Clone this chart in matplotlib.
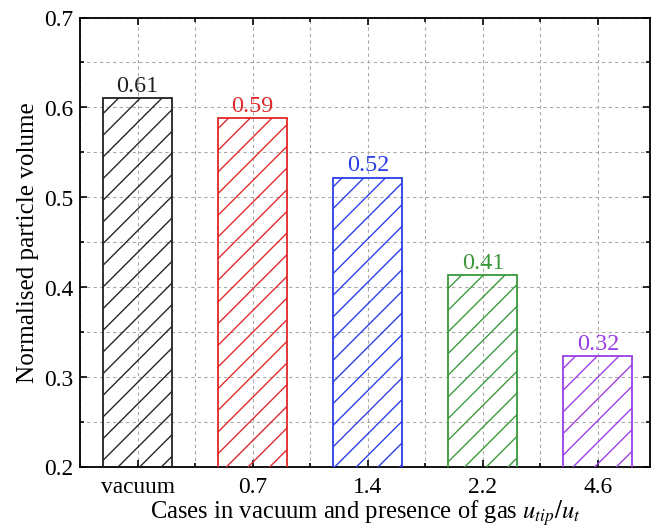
import numpy as np
import matplotlib.pyplot as plt
from matplotlib.ticker import MultipleLocator

# Data
cases = ['vacuum', '0.7', '1.4', '2.2', '4.6']
volumes = [0.61, 0.588, 0.522, 0.413, 0.323]
labels = ['0.61', '0.59', '0.52', '0.41', '0.32']
colors = ['#222222', '#e02828', '#2a3ee8', '#3a983a', '#9a3ee6']

plt.rcParams['font.family'] = 'Liberation Serif'
plt.rcParams['mathtext.fontset'] = 'stix'
plt.rcParams['hatch.linewidth'] = 0.75

# dpi chosen so that the hatch spacing matches the reference
DPI = 130.4
fig = plt.figure(figsize=(652.5 / DPI, 530.5 / DPI), dpi=DPI)
ax = fig.add_axes([80 / 652, 1 - 467 / 530, 570 / 652, 449 / 530])

x = np.arange(len(cases))
for i in range(len(cases)):
    bars = ax.bar(x[i], volumes[i], width=0.6, bottom=0, color='none',
                  edgecolor=colors[i], hatch='//', linewidth=1.0, zorder=3)
    ax.bar_label(bars, labels=[labels[i]], padding=1, color=colors[i], fontsize=13.3)

ax.set_xlim(-0.5, 4.457)
ax.set_ylim(0.2, 0.7)
ax.set_xticks(x)
ax.set_xticklabels(cases)
ax.xaxis.set_minor_locator(MultipleLocator(0.5))
ax.yaxis.set_major_locator(MultipleLocator(0.1))
ax.yaxis.set_minor_locator(MultipleLocator(0.05))

ax.tick_params(which='both', direction='in', top=True, right=True, labelsize=13, width=0.9)
ax.tick_params(which='major', length=4)
ax.tick_params(which='minor', length=2.2)
ax.tick_params(axis='x', which='major', pad=5.5)
for s in ax.spines.values():
    s.set_linewidth(1.0)

ax.grid(True, which='both', linestyle=(0, (3, 3)), color='#a8a8a8', linewidth=0.6, zorder=0)
ax.set_axisbelow(True)

ax.set_xlabel('Cases in vacuum and presence of gas $u_{tip}/u_t$', fontsize=13.6, labelpad=0)
ax.set_ylabel('Normalised particle volume', fontsize=13.9, labelpad=3)

plt.savefig('out.png', dpi=DPI)
